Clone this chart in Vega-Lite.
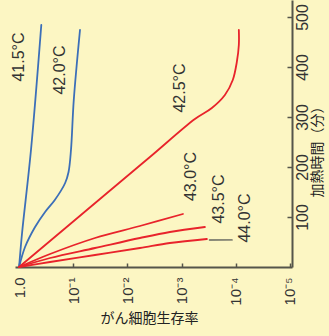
{
  "$schema": "https://vega.github.io/schema/vega-lite/v6.json",
  "width": 277,
  "height": 267,
  "autosize": "none",
  "padding": {"left": 15, "top": 0, "right": 37, "bottom": 69},
  "background": "#fcf6c3",
  "config": {"view": {"stroke": null}, "font": "Liberation Sans"},
  "datasets": {
    "curves": [
      {"series": "41.5", "t": 0, "s": 1},
      {"series": "41.5", "t": 68, "s": 0.881},
      {"series": "41.5", "t": 234, "s": 0.603},
      {"series": "41.5", "t": 484, "s": 0.389},
      {"series": "42.0", "t": 0, "s": 1},
      {"series": "42.0", "t": 40, "s": 0.776},
      {"series": "42.0", "t": 80, "s": 0.507},
      {"series": "42.0", "t": 110, "s": 0.331},
      {"series": "42.0", "t": 134, "s": 0.219},
      {"series": "42.0", "t": 168, "s": 0.141},
      {"series": "42.0", "t": 190, "s": 0.122},
      {"series": "42.0", "t": 234, "s": 0.11},
      {"series": "42.0", "t": 334, "s": 0.0977},
      {"series": "42.0", "t": 474, "s": 0.075},
      {"series": "42.5", "t": 0, "s": 1},
      {"series": "42.5", "t": 136, "s": 0.0321},
      {"series": "42.5", "t": 220, "s": 0.00383},
      {"series": "42.5", "t": 296, "s": 0.000566},
      {"series": "42.5", "t": 318, "s": 0.000275},
      {"series": "42.5", "t": 344, "s": 0.000158},
      {"series": "42.5", "t": 374, "s": 0.000113},
      {"series": "42.5", "t": 410, "s": 0.0000951},
      {"series": "42.5", "t": 444, "s": 0.0000873},
      {"series": "42.5", "t": 474, "s": 0.0000873},
      {"series": "43.0", "t": 0, "s": 1},
      {"series": "43.0", "t": 26, "s": 0.268},
      {"series": "43.0", "t": 58, "s": 0.0396},
      {"series": "43.0", "t": 82, "s": 0.00586},
      {"series": "43.0", "t": 106, "s": 0.000942},
      {"series": "43.5", "t": 0, "s": 1},
      {"series": "43.5", "t": 18, "s": 0.268},
      {"series": "43.5", "t": 38, "s": 0.0396},
      {"series": "43.5", "t": 58, "s": 0.00586},
      {"series": "43.5", "t": 70, "s": 0.00164},
      {"series": "43.5", "t": 80, "s": 0.00037},
      {"series": "44.0", "t": 0, "s": 1},
      {"series": "44.0", "t": 10, "s": 0.268},
      {"series": "44.0", "t": 24, "s": 0.0396},
      {"series": "44.0", "t": 38, "s": 0.00586},
      {"series": "44.0", "t": 48, "s": 0.00164},
      {"series": "44.0", "t": 56, "s": 0.00034},
      {"series": "limit", "t": 54, "s": 0.000302},
      {"series": "limit", "t": 54.1, "s": 0.000117}
    ],
    "labels": [
      {"label": "41.5°C", "s": 1.0, "t": 420},
      {"label": "42.0°C", "s": 0.175, "t": 394},
      {"label": "42.5°C", "s": 0.00107, "t": 358},
      {"label": "43.0°C", "s": 0.00067, "t": 181},
      {"label": "43.5°C", "s": 0.000204, "t": 136},
      {"label": "44.0°C", "s": 0.0000676, "t": 98}
    ]
  },
  "encoding": {
    "x": {
      "field": "s",
      "type": "quantitative",
      "scale": {"type": "log", "domain": [0.0000091, 1.19], "reverse": true, "nice": false},
      "axis": {
        "orient": "bottom",
        "values": [1, 0.1, 0.01, 0.001, 0.0001, 0.00001],
        "labelExpr": "['1.0','10⁻¹','10⁻²','10⁻³','10⁻⁴','10⁻⁵'][round(-log(datum.value)/LN10)]",
        "grid": false,
        "domainColor": "#55554a",
        "domainWidth": 2,
        "tickColor": "#55554a",
        "tickWidth": 1.5,
        "tickSize": -4,
        "labelAngle": 270,
        "labelAlign": "right",
        "labelBaseline": "middle",
        "labelPadding": 14,
        "labelFontSize": 15,
        "labelColor": "#333333",
        "labelOverlap": false,
        "labelFlush": false,
        "title": "がん細胞生存率",
        "titleFont": "Noto Sans CJK JP",
        "titleFontSize": 14,
        "titleFontWeight": "normal",
        "titleColor": "#222222",
        "titleAngle": 0,
        "titleAlign": "center",
        "titleBaseline": "middle",
        "titleX": 134,
        "titleY": 51
      }
    },
    "y": {
      "field": "t",
      "type": "quantitative",
      "scale": {"domain": [0, 534], "nice": false, "zero": false},
      "axis": {
        "orient": "right",
        "values": [100, 200, 300, 400, 500],
        "grid": false,
        "domainColor": "#55554a",
        "domainWidth": 2,
        "tickColor": "#55554a",
        "tickWidth": 1.5,
        "tickSize": -5,
        "labelAngle": 270,
        "labelAlign": "center",
        "labelBaseline": "top",
        "labelPadding": 7,
        "labelFontSize": 16,
        "labelColor": "#333333",
        "labelOverlap": false,
        "title": "加熱時間（分）",
        "titleFont": "Noto Sans CJK JP",
        "titleFontSize": 14,
        "titleFontWeight": "normal",
        "titleColor": "#222222",
        "titleAngle": 270,
        "titleAlign": "center",
        "titleBaseline": "top",
        "titleX": 18,
        "titleY": 148
      }
    }
  },
  "layer": [
    {
      "data": {"name": "curves"},
      "mark": {"type": "line", "interpolate": "catmull-rom", "strokeCap": "round"},
      "encoding": {
        "order": {"field": "t", "type": "quantitative"},
        "color": {
          "field": "series",
          "type": "nominal",
          "scale": {
            "domain": ["41.5", "42.0", "42.5", "43.0", "43.5", "44.0", "limit"],
            "range": ["#3c6fb8", "#3c6fb8", "#e8232b", "#e8232b", "#e8232b", "#e8232b", "#888877"]
          },
          "legend": null
        },
        "strokeWidth": {
          "field": "series",
          "type": "ordinal",
          "scale": {
            "domain": ["41.5", "42.0", "42.5", "43.0", "43.5", "44.0", "limit"],
            "range": [1.8, 1.8, 4.5, 2.6, 2.6, 2.6, 1.5]
          },
          "legend": null
        }
      }
    },
    {
      "data": {"name": "labels"},
      "mark": {"type": "text", "angle": 270, "align": "center", "baseline": "middle", "fontSize": 16, "color": "#333333", "font": "Liberation Sans"},
      "encoding": {"text": {"field": "label"}}
    }
  ]
}
